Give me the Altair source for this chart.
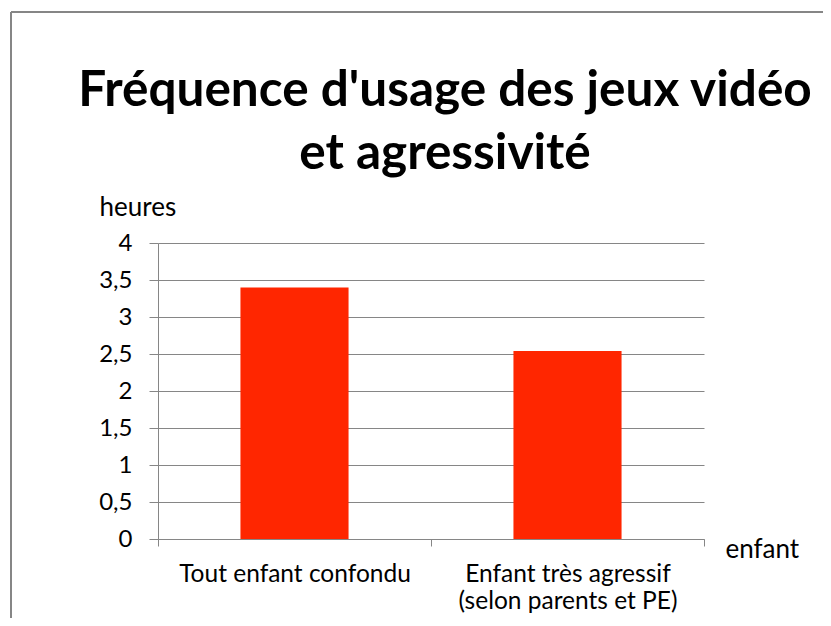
import altair as alt
import pandas as pd

categories = ["Tout enfant confondu", "Enfant très agressif\n(selon parents et PE)"]
values = [3.4, 2.54]
y_ticks = [0, 0.5, 1, 1.5, 2, 2.5, 3, 3.5, 4]
title_lines = ["Fréquence d'usage des jeux vidéo", "et agressivité"]

df = pd.DataFrame({"cat": categories, "val": values})

GRAY = "#868686"
FONT = "Lato"
W, H = 546, 296

bars = alt.Chart(df).mark_bar(color="#FF2600", width=alt.RelativeBandSize(0.396)).encode(
    x=alt.X(
        "cat:N",
        sort=None,
        scale=alt.Scale(paddingInner=0, paddingOuter=0),
        axis=alt.Axis(
            title="enfant",
            titleAnchor="start",
            titleAlign="left",
            titleBaseline="alphabetic",
            titleX=W + 21,
            titleY=18,
            titleFontSize=26,
            titleFontWeight="normal",
            titleFont=FONT,
            titleColor="#000000",
            labelAngle=0,
            labelFont=FONT,
            labelFontSize=24.5,
            labelColor="#000000",
            labelBaseline="top",
            labelPadding=16,
            labelLimit=400,
            labelLineHeight=27,
            labelExpr="split(datum.label, '\\n')",
            tickBand="extent",
            tickSize=7,
            tickColor=GRAY,
            domainColor=GRAY,
            grid=False,
        ),
    ),
    y=alt.Y(
        "val:Q",
        scale=alt.Scale(domain=[0, 4], nice=False),
        axis=alt.Axis(
            values=y_ticks,
            title="heures",
            titleAngle=0,
            titleAlign="left",
            titleBaseline="alphabetic",
            titleX=-59,
            titleY=-28,
            titleFontSize=26,
            titleFontWeight="normal",
            titleFont=FONT,
            titleColor="#000000",
            labelFont=FONT,
            labelFontSize=24,
            labelColor="#000000",
            labelPadding=17,
            labelExpr="replace(format(datum.value, '~g'), '.', ',')",
            tickSize=9,
            tickColor=GRAY,
            domainColor=GRAY,
            gridColor=GRAY,
            grid=True,
        ),
    ),
)

frame_v = alt.Chart(df).mark_rule(color=GRAY, strokeWidth=2).encode(
    x=alt.value(-147), y=alt.value(-231), y2=alt.value(H + 120)
)
frame_h = alt.Chart(df).mark_rule(color=GRAY, strokeWidth=2).encode(
    x=alt.value(-147), x2=alt.value(W + 140), y=alt.value(-231)
)

chart = alt.layer(frame_v, frame_h, bars).properties(
    width=W,
    height=H,
    padding={"left": 150, "top": 235, "right": 119, "bottom": 79},
    autosize=alt.AutoSizeParams(type="none"),
    title=alt.TitleParams(
        text=title_lines,
        font=FONT,
        fontSize=49.5,
        fontWeight="bold",
        color="#000000",
        lineHeight=63,
        baseline="alphabetic",
        anchor="middle",
        frame="group",
        dx=14,
        offset=-207,
    ),
).configure_view(stroke=None)

chart.save("out.html", embed_options={"renderer": "svg", "actions": False})
